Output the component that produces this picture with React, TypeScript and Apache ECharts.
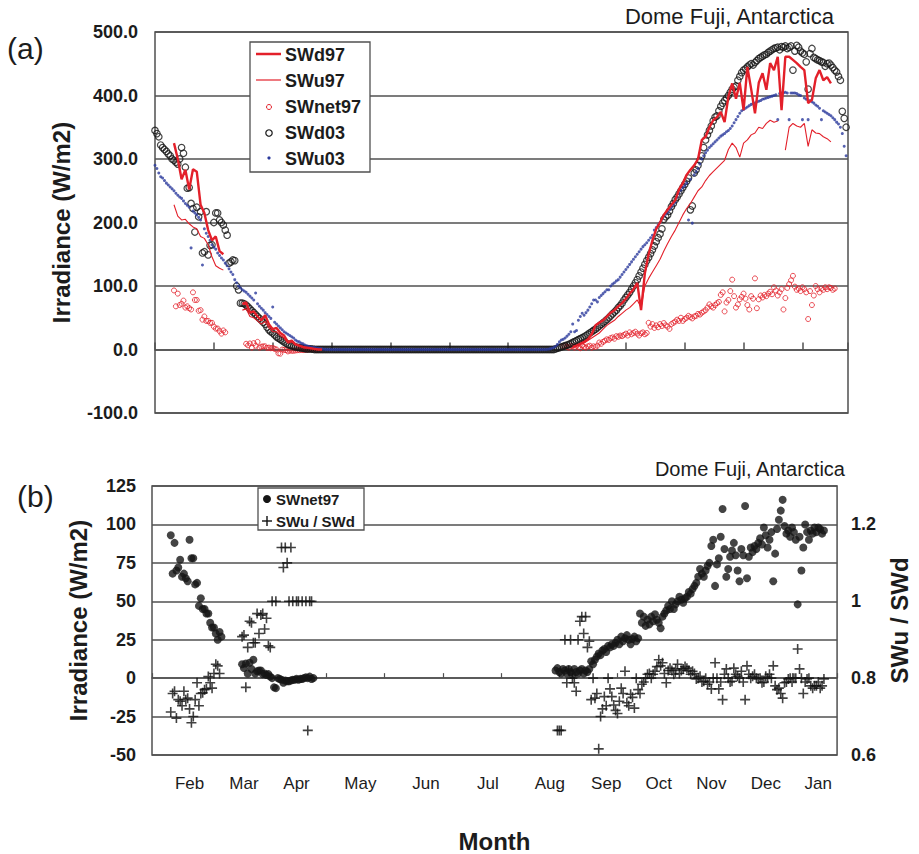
import React, { useEffect, useRef } from 'react';
import * as echarts from 'echarts';

// ---------------- data ----------------
// 2003 series: daily values from day 0 (mid-January) to day 364
const swd03 = [
  345, 340, 335, 322, 318, 315, 312, 308, 305, 300,
  298, 295, 292, 300, 318, 309, 287, 254, 255, 230,
  222, 185, 224, 209, 217, 152, 154, 217, 149, 164,
  165, 200, 215, 215, 204, 200, 196, 188, 180, 136,
  138, 141, 140, 100, 94, 73, 73, 72, 70, 67,
  64, 61, 58, 55, 52, 49, 46, 43, 40, 35,
  31, 28, 26, 23, 20, 18, 16, 14, 12, 10,
  8, 7, 6, 5, 4, 3.5, 3, 2.5, 2, 1.5,
  1, 1, 1, 0.5, 0, 0, 0, 0, 0, 0,
  0, 0, 0, 0, 0, 0, 0, 0, 0, 0,
  0, 0, 0, 0, 0, 0, 0, 0, 0, 0,
  0, 0, 0, 0, 0, 0, 0, 0, 0, 0,
  0, 0, 0, 0, 0, 0, 0, 0, 0, 0,
  0, 0, 0, 0, 0, 0, 0, 0, 0, 0,
  0, 0, 0, 0, 0, 0, 0, 0, 0, 0,
  0, 0, 0, 0, 0, 0, 0, 0, 0, 0,
  0, 0, 0, 0, 0, 0, 0, 0, 0, 0,
  0, 0, 0, 0, 0, 0, 0, 0, 0, 0,
  0, 0, 0, 0, 0, 0, 0, 0, 0, 0,
  0, 0, 0, 0, 0, 0, 0, 0, 0, 0,
  0, 0, 0, 0, 0, 0, 0, 0, 0, 0,
  0, 1, 2, 3, 4, 5, 6, 7, 8, 9.5,
  11, 12.5, 14, 15.5, 17, 18.5, 20, 22, 24, 26,
  28, 30, 32, 34.5, 37, 39.5, 42, 44.5, 47, 50,
  53, 56, 59, 62, 66, 69, 73, 78, 82, 86,
  90, 95, 100, 105, 110, 116, 122, 128, 134, 140,
  145, 151, 157, 163, 170, 176, 182, 190, 205, 209,
  212, 218, 225, 230, 236, 240, 245, 250, 255, 260,
  265, 270, 220, 226, 278, 283, 290, 298, 305, 318,
  330, 338, 345, 352, 360, 366, 368, 376, 383, 388,
  392, 396, 400, 405, 410, 413, 415, 424, 430, 436,
  440, 442, 445, 448, 450, 448, 452, 455, 458, 460,
  462, 464, 465, 468, 470, 472, 474, 475, 476, 472,
  477, 476, 478, 474, 476, 478, 440, 470, 479, 476,
  470, 467, 465, 453, 410, 466, 474, 460, 458, 456,
  455, 453, 452, 446, 450, 451, 448, 444, 440, 437,
  430, 424, 375, 364, 350,
];
const swu03 = [
  290, 285, 278, 272, 270, 266, 262, 259, 256, 253,
  250, 246, 243, 240, 238, 234, 230, 227, 224, 160,
  218, 215, 212, 208, 204, 133, 190, 183, 178, 172,
  165, 161, 158, 152, 148, 144, 141, 136, 132, 127,
  122, 118, 110, 105, 100, 97, 94, 92, 90, 87,
  84, 81, 78, 89, 72, 68, 65, 62, 58, 55,
  52, 49, 67, 43, 40, 37, 34, 31, 28, 26,
  24, 22, 20, 18, 15, 13, 12, 10, 9, 7,
  6, 5, 4, 3.5, 3, 2.5, 2, 1.5, 1, 0.5,
  0, 0, 0, 0, 0, 0, 0, 0, 0, 0,
  0, 0, 0, 0, 0, 0, 0, 0, 0, 0,
  0, 0, 0, 0, 0, 0, 0, 0, 0, 0,
  0, 0, 0, 0, 0, 0, 0, 0, 0, 0,
  0, 0, 0, 0, 0, 0, 0, 0, 0, 0,
  0, 0, 0, 0, 0, 0, 0, 0, 0, 0,
  0, 0, 0, 0, 0, 0, 0, 0, 0, 0,
  0, 0, 0, 0, 0, 0, 0, 0, 0, 0,
  0, 0, 0, 0, 0, 0, 0, 0, 0, 0,
  0, 0, 0, 0, 0, 0, 0, 0, 0, 0,
  0, 0, 0, 0, 0, 0, 0, 0, 0, 0,
  0, 0, 0, 0, 0, 0, 0, 0.5, 1, 2,
  3, 5, 8, 12, 15, 16, 18, 21, 24, 28,
  40, 28, 30, 46, 52, 57, 54, 58, 62, 67,
  72, 78, 78, 75, 82, 85, 88, 91, 94, 94,
  100, 103, 105, 108, 110, 114, 118, 122, 126, 130,
  134, 138, 142, 146, 150, 154, 158, 162, 165, 168,
  172, 176, 180, 188, 192, 196, 200, 205, 210, 213,
  216, 220, 224, 228, 232, 240, 246, 251, 255, 258,
  262, 204, 268, 199, 275, 280, 285, 292, 300, 305,
  310, 314, 318, 321, 324, 327, 330, 333, 336, 338,
  340, 343, 345, 348, 352, 357, 362, 367, 372, 376,
  378, 380, 382, 384, 386, 387, 388, 390, 391, 392,
  394, 395, 396, 397, 398, 399, 400, 401, 362, 403,
  404, 404, 405, 404, 362, 404, 404, 404, 403, 401,
  400, 362, 396, 394, 362, 392, 390, 388, 385, 383,
  380, 362, 376, 374, 372, 370, 368, 365, 362, 358,
  355, 350, 340, 320, 305,
];

// 1997 SWd / SWu lines, sampled every STEP97 days from day 0
const STEP97 = 2;
const N = null;
const swd97 = [
  N, N, N, N, N, 325, 300, 268, 283, 252,
  284, 280, 228, 215, 188, 172, 178, 155, 150, N,
  N, N, N, 72, 74, 58, 60, 52, 46, 54,
  40, 32, 34, 26, 22, 12, 14, 8, 6, 4,
  3, 2, 1, 0, 0, N, N, N, N, N,
  N, N, N, N, N, N, N, N, N, N,
  N, N, N, N, N, N, N, N, N, N,
  N, N, N, N, N, N, N, N, N, N,
  N, N, N, N, N, N, N, N, N, N,
  N, N, N, N, N, N, N, N, N, N,
  N, N, N, N, N, N, N, N, N, N,
  4, 6, 9, 12, 16, 24, 38, 42, 46, 52,
  58, 62, 68, 73, 80, 88, 95, 105, 62, 120,
  150, 172, 190, 200, 212, 220, 228, 235, 252, 262,
  275, 283, 290, 300, 330, 335, 350, 361, 366, 374,
  358, 398, 419, 395, 420, 377, 445, 410, 372, 420,
  435, 409, 451, 440, 461, 377, 461, 461, 456, 451,
  445, 440, 388, 393, 427, 440, 424, 429, 419, N,
  N, N, N,
];
const swu97 = [
  N, N, N, N, N, 228, 210, 204, 205, 198,
  193, 190, 178, 175, 165, 146, 132, 128, 125, N,
  N, N, N, 62, 64, 52, 50, 45, 40, 44,
  34, 28, 28, 22, 18, 10, 12, 7, 5, 3,
  2, 2, 1, 0, 0, N, N, N, N, N,
  N, N, N, N, N, N, N, N, N, N,
  N, N, N, N, N, N, N, N, N, N,
  N, N, N, N, N, N, N, N, N, N,
  N, N, N, N, N, N, N, N, N, N,
  N, N, N, N, N, N, N, N, N, N,
  N, N, N, N, N, N, N, N, N, N,
  3, 5, 8, 10, 14, 18, 22, 26, 32, 38,
  42, 46, 52, 57, 62, 66, 72, 78, 66, 100,
  112, 122, 132, 142, 155, 167, 178, 188, 200, 212,
  222, 230, 240, 250, 256, 266, 274, 280, 286, 292,
  298, 315, 325, 318, 303, 325, 330, 338, 341, 350,
  348, 356, 361, 358, 360, N, 314, 350, 356, 352,
  350, 356, 320, 346, 341, 340, 335, 332, 327, N,
  N, N, N,
];

// 1997 daily values, starting at day DAILY_START
const DAILY_START = 10;
const swnet97 = [
  93, 68, 88, 70, 72, 77, 66, 68, 65, 63,
  90, 78, 78, 61, 62, 47, 52, 45, 45, 42,
  42, 36, 33, 33, 29, 25, 30, 27,
  N, N, N, N, N, N, N, N, N, N,
  9, 6.5, 9.5, 3, 10, 6, 12, 3, 4.5, 5,
  5, 2.6, 3, 2, 2.6, 1, 0, -6, -6.5, 0,
  -0.5, -1, -3, -1.5, -2, -2, -1.5, -1, -1, -0.5,
  -1, -0.5, -0.5, 0, 0.5, 0, 1, -0.5, 0,
  N, N, N, N, N, N, N, N, N, N, N, N, N, N, N, N, N, N, N, N,
  N, N, N, N, N, N, N, N, N, N, N, N, N, N, N, N, N, N, N, N,
  N, N, N, N, N, N, N, N, N, N, N, N, N, N, N, N, N, N, N, N,
  N, N, N, N, N, N, N, N, N, N, N, N, N, N, N, N, N, N, N, N,
  N, N, N, N, N, N, N, N, N, N, N, N, N, N, N, N, N, N, N, N,
  N, N, N, N, N, N, N, N, N, N, N, N, N, N, N, N, N, N, N, N,
  N, N, N, N, N, N, N, N,
  5, 6.5, 4, 3, 6, 5, 3, 6, 4, 2,
  6, 4, 3, 5, 6, 3, 5, 4, 6, 11,
  9, 12, 14, 16, 15, 18, 19, 17, 21, 20,
  22, 21, 23, 25, 22, 27, 24, 26, 28, 25,
  22, 25.5, 27, 24, 26, 42, 36, 40, 34, 38,
  35, 40, 37, 41.6, 38, 36, 32.5, 40, 42, 44,
  47, 45, 50, 45, 48, 50, 53, 51, 49, 52,
  53, 56, 55, 58, 60, 62, 66, 71, 68, 66,
  70, 73, 75, 86, 90, 60, 74, 78, 92, 110,
  84, 66, 71, 79, 83, 88, 80, 70, 63, 84,
  80, 112, 65, 79, 85, 82, 86, 84, 88, 91,
  87, 98, 93, 85, 90, 95, 63, 81, 97, 103,
  109, 116, 99, 94, 96, 92, 98, 95, 90, 48,
  92, 70, 85, 100, 95, 90, 96, 94, 98, 95,
  98, 97, 94, 96,
];
const ratio97 = [
  0.712, 0.76, 0.766, 0.696, 0.744, 0.74, 0.728, 0.766, 0.744, 0.748,
  0.72, 0.684, 0.70, 0.744, 0.788, 0.728, 0.76, 0.762, 0.77, 0.772,
  0.804, 0.788, 0.774, 0.812, 0.836, 0.832, 0.812,
  N, N, N, N, N, N, N, N, N, N, N,
  0.908, 0.912, 0.776, 0.88, 0.948, 0.944, 0.892, 0.892, 0.968, 0.916,
  0.964, 0.968, 0.928, 0.956, 0.884, 0.88, 1.0, N, 1.0, N,
  N, 1.14, 1.088, 1.14, 1.1, 1.0, 1.14, 1.0, N, 1.0,
  1.0, N, 1.0, N, 1.0, 0.664, 1.0, 1.0,
  N, N, N, N, N, N, N, N, N, N, N, N, N, N, N, N, N, N, N, N,
  N, N, N, N, N, N, N, N, N, N, N, N, N, N, N, N, N, N, N, N,
  N, N, N, N, N, N, N, N, N, N, N, N, N, N, N, N, N, N, N, N,
  N, N, N, N, N, N, N, N, N, N, N, N, N, N, N, N, N, N, N, N,
  N, N, N, N, N, N, N, N, N, N, N, N, N, N, N, N, N, N, N, N,
  N, N, N, N, N, N, N, N, N, N, N, N, N, N, N, N, N, N, N, N,
  N, N, N, N, N, N, N, N, N,
  N, 0.664, 0.664, 0.664, N, 0.90, 0.788, 0.82, 0.90, 0.80,
  0.788, 0.766, 0.90, 0.948, 0.96, 0.916, 0.96, 0.88, 0.896, 0.744,
  0.80, 0.748, 0.76, 0.616, 0.70, 0.72, 0.752, 0.728, 0.80, 0.772,
  0.752, 0.73, 0.716, 0.708, 0.74, 0.774, 0.76, 0.818, 0.736, 0.728,
  0.758, 0.75, 0.722, 0.80, 0.77, 0.76, 0.784, 0.79, 0.80, 0.81,
  0.812, 0.80, 0.81, 0.818, 0.83, 0.848, 0.832, 0.84, 0.812, 0.788,
  0.82, 0.826, 0.82, 0.81, 0.824, 0.836, 0.812, 0.82, 0.824, 0.83,
  0.826, 0.82, 0.81, 0.818, 0.812, 0.798, 0.80, 0.805, 0.79, 0.792,
  0.80, 0.784, 0.79, 0.772, 0.80, 0.84, 0.80, 0.772, 0.79, 0.744,
  0.81, 0.824, 0.80, 0.79, 0.792, 0.826, 0.81, 0.805, 0.80, 0.818,
  0.79, 0.744, 0.832, 0.81, 0.80, 0.805, 0.81, 0.80, 0.798, 0.80,
  0.788, 0.79, 0.805, 0.80, 0.81, 0.80, 0.832, 0.78, 0.77, 0.774,
  0.76, 0.748, 0.788, 0.79, 0.798, 0.80, 0.79, 0.80, 0.80, 0.876,
  0.824, 0.80, 0.76, 0.79, 0.798, 0.80, 0.78, 0.774, 0.78, 0.78,
  0.79, 0.774, 0.78, 0.798,
];

const monthLabels = ['Feb', 'Mar', 'Apr', 'May', 'Jun', 'Jul', 'Aug', 'Sep', 'Oct', 'Nov', 'Dec', 'Jan'];
const monthLabelDays = [20, 49, 77, 111, 146, 179, 212, 242, 270, 298, 327, 355];
const topTicks = { min: -100, max: 500, interval: 100 };
const botTicks = { min: -50, max: 125, interval: 25 };
const ratioTicks = { min: 0.6, max: 1.3, interval: 0.2 };

// ---------------- helpers ----------------
const linePairs = (vals: (number | null)[], start: number, step: number) =>
  vals.map((v, i) => [start + i * step, v == null ? '-' : v]);
const pointPairs = (vals: (number | null)[], start: number, step: number) =>
  vals
    .map((v, i) => (v == null ? null : [start + i * step, v]))
    .filter((p) => p !== null) as number[][];

const FONT = '"Liberation Sans", Arial, Helvetica, sans-serif';
const RED = '#e3202a';
const BLUE = '#2b3a9c';
const INK = '#1c1c1c';
const GRID = '#505050';
const PLUS = 'path://M4.2,0H5.8V10H4.2Z M0,4.2H10V5.8H0Z';

const txt = (text: string, x: number, y: number, font: string, align = 'left', fill = INK) => ({
  type: 'text',
  x,
  y,
  z: 100,
  style: {
    text,
    fill,
    font,
    align,
    verticalAlign: 'middle',
    textAlign: align,
    textVerticalAlign: 'middle',
  },
});

function buildOption() {
  const axisNameStyle = { fontSize: 24, fontWeight: 'bold', color: INK, fontFamily: FONT };
  const tickLabel = { fontSize: 18, fontWeight: 'bold', color: INK, fontFamily: FONT };
  return {
    animation: false,
    backgroundColor: '#ffffff',
    textStyle: { fontFamily: FONT },
    grid: [
      { left: 155, top: 32, width: 693, height: 381, show: true, borderColor: GRID, borderWidth: 1.5 },
      { left: 152, top: 486, width: 695, height: 269, show: true, borderColor: GRID, borderWidth: 1.5 },
    ],
    xAxis: [
      {
        gridIndex: 0, type: 'value', min: 0, max: 365, interval: 31,
        axisLine: { onZero: true, lineStyle: { color: GRID, width: 1.5 } },
        axisTick: { inside: true, length: 7, lineStyle: { color: GRID, width: 1.5 } },
        axisLabel: { show: false }, splitLine: { show: false },
      },
      {
        gridIndex: 1, type: 'value', min: 0, max: 365, interval: 31,
        axisLine: { onZero: true, lineStyle: { color: GRID, width: 1.5 } },
        axisTick: { inside: true, length: 5, lineStyle: { color: GRID, width: 1.2 } },
        axisLabel: { show: false }, splitLine: { show: false },
      },
      {
        gridIndex: 1, type: 'value', min: 0, max: 365, position: 'bottom',
        axisLine: { show: false, onZero: false }, axisTick: { show: false }, splitLine: { show: false },
        axisLabel: {
          customValues: monthLabelDays,
          formatter: (v: number) => {
            const i = monthLabelDays.indexOf(Math.round(v));
            return i >= 0 ? monthLabels[i] : '';
          },
          fontSize: 17, color: INK, fontFamily: FONT, margin: 20,
        },
        name: 'Month', nameLocation: 'middle', nameGap: 74, nameTextStyle: axisNameStyle,
      },
    ],
    yAxis: [
      {
        gridIndex: 0, type: 'value', ...topTicks,
        axisLine: { show: false }, axisTick: { show: false },
        splitLine: { lineStyle: { color: GRID, width: 1.5 } },
        axisLabel: { ...tickLabel, margin: 17, formatter: (v: number) => v.toFixed(1) },
        name: 'Irradiance (W/m2)', nameLocation: 'middle', nameGap: 82, nameTextStyle: axisNameStyle,
      },
      {
        gridIndex: 1, type: 'value', ...botTicks,
        axisLine: { show: false }, axisTick: { show: false },
        splitLine: { lineStyle: { color: GRID, width: 1.5 } },
        axisLabel: { ...tickLabel, margin: 16 },
        name: 'Irradiance (W/m2)', nameLocation: 'middle', nameGap: 62, nameTextStyle: axisNameStyle,
      },
      {
        gridIndex: 1, type: 'value', position: 'right', ...ratioTicks,
        axisLine: { show: false }, axisTick: { show: false }, splitLine: { show: false },
        axisLabel: {
          ...tickLabel, margin: 14, showMaxLabel: false,
          formatter: (v: number) => String(Math.round(v * 10) / 10),
        },
        name: 'SWu / SWd', nameLocation: 'middle', nameGap: 44, nameTextStyle: axisNameStyle,
      },
    ],
    series: [
      {
        name: 'SWd97', type: 'line', xAxisIndex: 0, yAxisIndex: 0,
        data: linePairs(swd97, 0, STEP97), showSymbol: false, symbol: 'none', connectNulls: false,
        lineStyle: { color: RED, width: 2.4 }, itemStyle: { color: RED },
      },
      {
        name: 'SWu97', type: 'line', xAxisIndex: 0, yAxisIndex: 0,
        data: linePairs(swu97, 0, STEP97), showSymbol: false, symbol: 'none', connectNulls: false,
        lineStyle: { color: RED, width: 1.1 }, itemStyle: { color: RED },
      },
      {
        name: 'SWnet97', type: 'scatter', xAxisIndex: 0, yAxisIndex: 0,
        data: pointPairs(swnet97, DAILY_START, 1), symbol: 'circle', symbolSize: 5,
        itemStyle: { color: 'rgba(0,0,0,0)', borderColor: RED, borderWidth: 1 },
      },
      {
        name: 'SWd03', type: 'scatter', xAxisIndex: 0, yAxisIndex: 0,
        data: pointPairs(swd03, 0, 1), symbol: 'circle', symbolSize: 6.5,
        itemStyle: { color: 'rgba(0,0,0,0)', borderColor: '#151515', borderWidth: 1.2 },
      },
      {
        name: 'SWu03', type: 'scatter', xAxisIndex: 0, yAxisIndex: 0,
        data: pointPairs(swu03, 0, 1), symbol: 'circle', symbolSize: 3,
        itemStyle: { color: BLUE },
      },
      {
        name: 'SWnet97 (b)', type: 'scatter', xAxisIndex: 1, yAxisIndex: 1,
        data: pointPairs(swnet97, DAILY_START, 1), symbol: 'circle', symbolSize: 8,
        itemStyle: { color: '#151515' },
      },
      {
        name: 'SWu / SWd', type: 'scatter', xAxisIndex: 1, yAxisIndex: 2,
        data: pointPairs(ratio97, DAILY_START, 1), symbol: PLUS, symbolSize: 10,
        itemStyle: { color: '#111' },
      },
    ],
    graphic: [
      txt('(a)', 7, 48, `30px ${FONT}`),
      txt('(b)', 17, 496, `30px ${FONT}`),
      txt('Dome Fuji, Antarctica', 834, 16, `22px ${FONT}`, 'right'),
      txt('Dome Fuji, Antarctica', 845, 469, `20px ${FONT}`, 'right'),
      // legend (a)
      { type: 'rect', z: 99, shape: { x: 250, y: 42, width: 120, height: 130 }, style: { fill: '#fff', stroke: GRID, lineWidth: 1.3 } },
      { type: 'line', z: 100, shape: { x1: 256, y1: 54, x2: 281, y2: 54 }, style: { stroke: RED, lineWidth: 2.5 } },
      { type: 'line', z: 100, shape: { x1: 256, y1: 80, x2: 281, y2: 80 }, style: { stroke: RED, lineWidth: 1.2 } },
      { type: 'circle', z: 100, shape: { cx: 269, cy: 107, r: 2.5 }, style: { fill: 'none', stroke: RED, lineWidth: 1 } },
      { type: 'circle', z: 100, shape: { cx: 269, cy: 133, r: 3.2 }, style: { fill: 'none', stroke: '#151515', lineWidth: 1.2 } },
      { type: 'circle', z: 100, shape: { cx: 269, cy: 158, r: 1.6 }, style: { fill: BLUE } },
      txt('SWd97', 285, 55, `bold 18px ${FONT}`),
      txt('SWu97', 285, 81, `bold 18px ${FONT}`),
      txt('SWnet97', 285, 107, `bold 18px ${FONT}`),
      txt('SWd03', 285, 133, `bold 18px ${FONT}`),
      txt('SWu03', 285, 159, `bold 18px ${FONT}`),
      // legend (b)
      { type: 'rect', z: 99, shape: { x: 258, y: 488, width: 106, height: 42 }, style: { fill: '#fff', stroke: GRID, lineWidth: 1.3 } },
      { type: 'circle', z: 100, shape: { cx: 267, cy: 499, r: 4 }, style: { fill: '#151515' } },
      { type: 'line', z: 100, shape: { x1: 262, y1: 521, x2: 272, y2: 521 }, style: { stroke: '#111', lineWidth: 1.4 } },
      { type: 'line', z: 100, shape: { x1: 267, y1: 516, x2: 267, y2: 526 }, style: { stroke: '#111', lineWidth: 1.4 } },
      txt('SWnet97', 276, 499, `bold 15px ${FONT}`),
      txt('SWu / SWd', 276, 521, `bold 15px ${FONT}`),
    ],
  };
}

export default function App() {
  const ref = useRef<HTMLDivElement>(null);
  useEffect(() => {
    if (!ref.current) return;
    const chart = echarts.init(ref.current, null, { renderer: 'svg' });
    chart.setOption(buildOption() as any);
    return () => chart.dispose();
  }, []);
  return (
    <div
      ref={ref}
      style={{ position: 'absolute', left: 0, top: 0, width: 919, height: 854, background: '#fff' }}
    />
  );
}
